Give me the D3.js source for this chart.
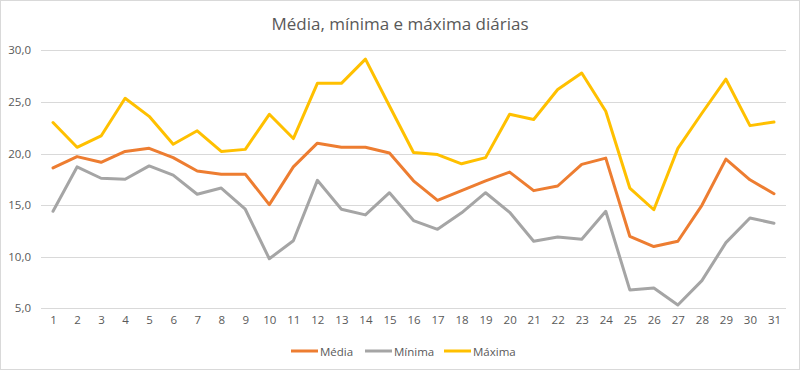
<!DOCTYPE html>
<html><head><meta charset="utf-8">
<script src="https://cdn.jsdelivr.net/npm/d3@7"></script>
<style>body{margin:0;background:#fff}svg{display:block}text{font-family:"Open Sans","Liberation Sans",sans-serif;fill:#595959}</style>
</head><body>
<svg id="c" width="801" height="371"></svg>
<script>
const days = d3.range(1, 32);
const media = [18.6,19.7,19.15,20.2,20.5,19.6,18.3,18.0,18.0,15.05,18.7,21.0,20.6,20.6,20.05,17.35,15.45,16.4,17.35,18.2,16.4,16.85,18.95,19.55,11.98,10.98,11.5,14.98,19.45,17.45,16.1];
const minima = [14.4,18.7,17.6,17.5,18.8,17.9,16.05,16.65,14.6,9.8,11.55,17.4,14.6,14.05,16.2,13.5,12.65,14.25,16.2,14.3,11.5,11.9,11.7,14.4,6.78,6.97,5.32,7.68,11.36,13.75,13.24];
const maxima = [23.0,20.6,21.7,25.35,23.6,20.9,22.2,20.2,20.4,23.8,21.45,26.8,26.8,29.15,24.6,20.1,19.9,19.0,19.6,23.8,23.3,26.2,27.8,24.1,16.65,14.55,20.5,23.9,27.2,22.7,23.05];
const yTicks = [5,10,15,20,25,30];
const seriesNames = ["Média","Mínima","Máxima"];
const seriesColors = ["#ED7D31","#A5A5A5","#FFC000"];
const title = "Média, mínima e máxima diárias";

const series = [media, minima, maxima];
const svg = d3.select("#c");
svg.append("rect").attr("x",0.5).attr("y",0.5).attr("width",799).attr("height",369)
  .attr("fill","#fff").attr("stroke","#d9d9d9");

const x = d3.scalePoint().domain(days).range([41, 786]).padding(0.5);
const y = d3.scaleLinear().domain([5, 30]).range([308.3, 50.3]);

// gridlines
svg.append("g").selectAll("line").data(yTicks).join("line")
  .attr("x1",41).attr("x2",786)
  .attr("y1",d=>Math.round(y(d))+0.5).attr("y2",d=>Math.round(y(d))+0.5)
  .attr("stroke","#d9d9d9").attr("stroke-width",1);

// y axis
const yAxis = svg.append("g").attr("transform","translate(31,0)")
  .call(d3.axisLeft(y).tickValues(yTicks).tickSize(0).tickPadding(0)
    .tickFormat(d=>d3.format(".1f")(d).replace(".",",")));
yAxis.select(".domain").remove();
yAxis.selectAll("text").style("font-size","11.5px").attr("fill","#595959");

// x axis
const xAxis = svg.append("g").attr("transform","translate(0,316)")
  .call(d3.axisBottom(x).tickSize(0).tickPadding(0));
xAxis.select(".domain").remove();
xAxis.selectAll("text").style("font-size","11.5px").attr("fill","#595959");

const line = d3.line().x((d,i)=>x(days[i])).y(d=>y(d));
svg.append("g").selectAll("path").data(series).join("path")
  .attr("d", line).attr("fill","none")
  .attr("stroke",(d,i)=>seriesColors[i]).attr("stroke-width",3)
  .attr("stroke-linejoin","round").attr("stroke-linecap","round");

// title
svg.append("text").attr("x",400).attr("y",30).attr("text-anchor","middle")
  .style("font-size","17px").text(title);

// legend
const legendX = [291, 365, 444];
const lg = svg.append("g").selectAll("g").data(seriesNames).join("g")
  .attr("transform",(d,i)=>`translate(${legendX[i]},351)`);
lg.append("line").attr("x1",0).attr("x2",27).attr("y1",0).attr("y2",0)
  .attr("stroke",(d,i)=>seriesColors[i]).attr("stroke-width",3);
lg.append("text").attr("x",29).attr("y",4.5).style("font-size","11.5px").text(d=>d);
</script>
</body></html>
